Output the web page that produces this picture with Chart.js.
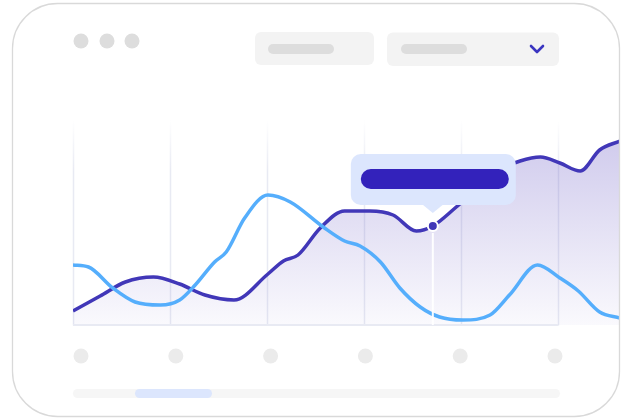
<!DOCTYPE html>
<html>
<head>
<meta charset="utf-8">
<script src="https://cdn.jsdelivr.net/npm/chart.js@4/dist/chart.umd.min.js"></script>
<style>
  html, body { margin: 0; padding: 0; background: #ffffff; }
  #wrap { width: 626px; height: 419px; }
</style>
</head>
<body>
<div id="wrap"><canvas id="lineChart" width="626" height="419"></canvas></div>
<script>
// grid positions (x categories) and the two series
const gridTicks = [0, 1, 2, 3, 4, 5];
const xLabels = ['', '', '', '', '', ''];

const darkX = [0, 0.28, 0.54, 0.83, 1.1, 1.36, 1.66, 2.01, 2.17, 2.32, 2.55, 2.8, 3.06, 3.3, 3.54, 3.71, 3.94, 4.18, 4.4, 4.61, 4.82, 5.02, 5.23, 5.43, 5.64];
const darkY = [14, 29, 43, 48, 41, 30, 25, 51, 64, 70, 97, 114, 114, 110, 94, 99, 117, 138, 155, 164, 168, 162, 154, 175, 184];

const lightX = [0, 0.16, 0.41, 0.64, 0.9, 1.1, 1.26, 1.46, 1.58, 1.77, 2.01, 2.24, 2.58, 2.8, 2.96, 3.17, 3.37, 3.58, 3.78, 4.02, 4.3, 4.5, 4.79, 5.02, 5.21, 5.43, 5.64];
const lightY = [60, 58, 37, 23, 20, 25, 40, 63, 73, 107, 130, 123, 98, 84, 79, 63, 37, 18, 8, 5, 10, 30, 60, 47, 34, 13, 7];

const hoverIndex = 15;

function roundRect(ctx, x, y, w, h, r) {
    ctx.beginPath();
    ctx.moveTo(x + r, y);
    ctx.arcTo(x + w, y, x + w, y + h, r);
    ctx.arcTo(x + w, y + h, x, y + h, r);
    ctx.arcTo(x, y + h, x, y, r);
    ctx.arcTo(x, y, x + w, y, r);
    ctx.closePath();
}

const toPoints = (xs, ys) => xs.map((x, i) => ({ x: x, y: ys[i] }));

// card, fake toolbar, grid lines
const backdrop = {
    id: 'backdrop',
    beforeDraw(chart) {
        const ctx = chart.ctx;
        const xs = chart.scales.x, ys = chart.scales.y;
        ctx.save();
        ctx.fillStyle = '#ffffff';
        ctx.fillRect(0, 0, chart.width, chart.height);

        // window dots
        ctx.fillStyle = '#dddddd';
        [81, 107, 132].forEach(cx => {
            ctx.beginPath();
            ctx.arc(cx, 41, 7.5, 0, Math.PI * 2);
            ctx.fill();
        });

        // two select boxes
        ctx.fillStyle = '#f3f3f3';
        roundRect(ctx, 255, 32, 119, 33, 6); ctx.fill();
        roundRect(ctx, 387, 32.5, 172, 33.5, 6); ctx.fill();
        ctx.fillStyle = '#dddddd';
        roundRect(ctx, 268, 44, 66, 10, 5); ctx.fill();
        roundRect(ctx, 401, 44, 66, 10, 5); ctx.fill();
        ctx.strokeStyle = '#3a35c0';
        ctx.lineWidth = 2.6;
        ctx.lineCap = 'round';
        ctx.lineJoin = 'round';
        ctx.beginPath();
        ctx.moveTo(531, 46);
        ctx.lineTo(537, 52);
        ctx.lineTo(543, 46);
        ctx.stroke();

        // vertical grid lines
        const top = ys.getPixelForValue(ys.max), bottom = ys.getPixelForValue(0);
        ctx.lineWidth = 1.5;
        gridTicks.forEach(t => {
            const px = Math.round(xs.getPixelForValue(t)) + 0.5;
            const g = ctx.createLinearGradient(0, top, 0, bottom);
            g.addColorStop(0, 'rgba(232,234,243,0)');
            g.addColorStop(0.25, 'rgba(232,234,243,1)');
            g.addColorStop(1, 'rgba(232,234,243,1)');
            ctx.strokeStyle = g;
            ctx.beginPath();
            ctx.moveTo(px, top);
            ctx.lineTo(px, bottom);
            ctx.stroke();
        });
        ctx.restore();
    },
    afterDatasetsDraw(chart) {
        const ctx = chart.ctx;
        const xs = chart.scales.x, ys = chart.scales.y;
        const bottom = ys.getPixelForValue(0);
        const pt = chart.getDatasetMeta(0).data[hoverIndex];
        ctx.save();
        // baseline
        ctx.strokeStyle = '#e8eaf3';
        ctx.lineWidth = 2;
        ctx.beginPath();
        ctx.moveTo(xs.getPixelForValue(gridTicks[0]), bottom);
        ctx.lineTo(xs.getPixelForValue(gridTicks[gridTicks.length - 1]), bottom);
        ctx.stroke();

        // hover line
        ctx.strokeStyle = 'rgba(255,255,255,0.95)';
        ctx.lineWidth = 2;
        ctx.beginPath();
        ctx.moveTo(pt.x, pt.y + 7);
        ctx.lineTo(pt.x, bottom);
        ctx.stroke();

        // x label placeholders
        ctx.fillStyle = '#ebebeb';
        xLabels.forEach((l, i) => {
            ctx.beginPath();
            ctx.arc(81 + i * 94.8, 356, 7.5, 0, Math.PI * 2);
            ctx.fill();
        });

        // scrollbar
        ctx.fillStyle = '#f6f6f6';
        roundRect(ctx, 73, 389, 487, 9, 4.5); ctx.fill();
        ctx.fillStyle = '#dce6fd';
        roundRect(ctx, 135, 389, 77, 9, 4.5); ctx.fill();
        ctx.restore();
    },
    afterDraw(chart) {
        const ctx = chart.ctx;
        const pt = chart.getDatasetMeta(0).data[hoverIndex];
        ctx.save();
        // tooltip bubble
        const bx = pt.x - 82, by = pt.y - 72, bw = 165, bh = 51;
        ctx.fillStyle = '#dce6fd';
        roundRect(ctx, bx, by, bw, bh, 10);
        ctx.fill();
        ctx.beginPath();
        ctx.moveTo(pt.x - 11, by + bh - 1);
        ctx.lineTo(pt.x, pt.y - 13);
        ctx.lineTo(pt.x + 11, by + bh - 1);
        ctx.closePath();
        ctx.fill();
        ctx.fillStyle = '#3322bb';
        roundRect(ctx, bx + 10, by + 15, 148, 20, 10);
        ctx.fill();

        // card outline on top so the lines stop at its edge
        roundRect(ctx, 12.5, 3.5, 607, 413, 45);
        ctx.strokeStyle = '#d9d9d9';
        ctx.lineWidth = 1.3;
        ctx.stroke();
        ctx.restore();
    }
};

const ctx = document.getElementById('lineChart').getContext('2d');

new Chart(ctx, {
    type: 'line',
    data: {
        datasets: [{
            label: 'Dark',
            data: toPoints(darkX, darkY),
            borderColor: '#4137b8',
            borderWidth: 3.5,
            cubicInterpolationMode: 'monotone',
            fill: 'origin',
            backgroundColor: (c) => {
                const area = c.chart.chartArea;
                if (!area) return 'rgba(90,70,200,0.15)';
                const g = c.chart.ctx.createLinearGradient(0, 140, 0, area.bottom);
                g.addColorStop(0, 'rgba(88,70,190,0.28)');
                g.addColorStop(1, 'rgba(88,70,190,0.03)');
                return g;
            },
            pointRadius: (c) => c.dataIndex === hoverIndex ? 5 : 0,
            pointBorderWidth: 2,
            pointBorderColor: '#ffffff',
            pointBackgroundColor: '#4137b8',
            order: 2
        }, {
            label: 'Light',
            data: toPoints(lightX, lightY),
            borderColor: '#55aefc',
            borderWidth: 3.5,
            cubicInterpolationMode: 'monotone',
            fill: false,
            pointRadius: 0,
            order: 1
        }]
    },
    options: {
        responsive: false,
        devicePixelRatio: 1,
        animation: false,
        layout: {
            padding: { left: 73, right: 6, top: 120, bottom: 94 }
        },
        plugins: {
            legend: { display: false },
            tooltip: { enabled: false }
        },
        events: [],
        scales: {
            x: {
                type: 'linear',
                display: false,
                min: 0,
                max: 5.64
            },
            y: {
                display: false,
                min: 0,
                max: 205
            }
        }
    },
    plugins: [backdrop]
});
</script>
</body>
</html>
